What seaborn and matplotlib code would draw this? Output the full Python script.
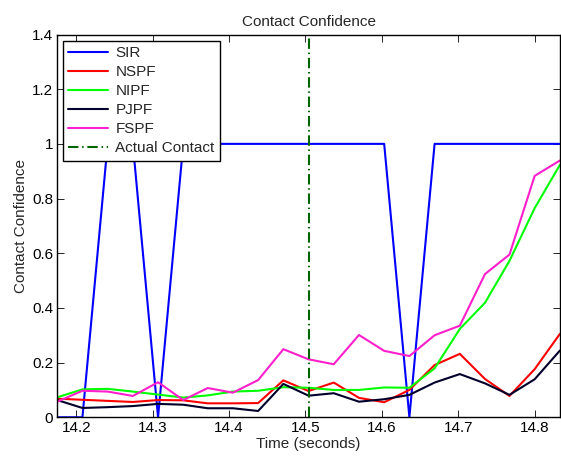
import pandas as pd
import matplotlib
matplotlib.use('Agg')
import matplotlib.pyplot as plt
import seaborn as sns

# Values
time_s = [14.175, 14.208, 14.241, 14.274, 14.307, 14.340, 14.372, 14.405,
          14.438, 14.471, 14.504, 14.537, 14.570, 14.603, 14.636, 14.669,
          14.702, 14.735, 14.767, 14.800, 14.833]

sir = [0, 0, 1, 1, 0, 1, 1, 1, 1, 1, 1, 1, 1, 1, 0, 1, 1, 1, 1, 1, 1]
nspf = [0.068, 0.064, 0.060, 0.056, 0.063, 0.062, 0.051, 0.051, 0.052, 0.135,
        0.096, 0.127, 0.071, 0.055, 0.100, 0.191, 0.232, 0.140, 0.078, 0.176, 0.305]
nipf = [0.073, 0.102, 0.104, 0.094, 0.083, 0.072, 0.080, 0.094, 0.097, 0.110,
        0.108, 0.100, 0.100, 0.109, 0.108, 0.179, 0.323, 0.419, 0.572, 0.765, 0.923]
pjpf = [0.063, 0.034, 0.037, 0.041, 0.049, 0.046, 0.033, 0.033, 0.023, 0.122,
        0.079, 0.088, 0.057, 0.066, 0.082, 0.127, 0.158, 0.124, 0.082, 0.139, 0.244]
fspf = [0.057, 0.097, 0.094, 0.078, 0.128, 0.063, 0.107, 0.090, 0.136, 0.249,
        0.212, 0.194, 0.301, 0.243, 0.224, 0.300, 0.335, 0.524, 0.595, 0.883, 0.939]

contact_time = 14.504

series_names = ['SIR', 'NSPF', 'NIPF', 'PJPF', 'FSPF']
series_colors = ['#0000ff', '#ff0000', '#00ff00', '#00002b', '#ff1fcc']

x_ticks = [14.2, 14.3, 14.4, 14.5, 14.6, 14.7, 14.8]
y_ticks = [0, 0.2, 0.4, 0.6, 0.8, 1.0, 1.2, 1.4]
y_tick_labels = ['0', '0.2', '0.4', '0.6', '0.8', '1', '1.2', '1.4']

sns.set_style('ticks')
plt.rcParams['font.family'] = ['Liberation Sans', 'DejaVu Sans']
plt.rcParams.update({
    'xtick.direction': 'in', 'ytick.direction': 'in',
    'xtick.top': True, 'ytick.right': True,
    'xtick.major.size': 5, 'ytick.major.size': 5,
    'xtick.major.width': 0.6, 'ytick.major.width': 0.6,
    'axes.linewidth': 1.0, 'axes.edgecolor': 'black',
    'xtick.color': 'black', 'ytick.color': 'black',
})

df = pd.DataFrame({'time': time_s, 'SIR': sir, 'NSPF': nspf, 'NIPF': nipf,
                   'PJPF': pjpf, 'FSPF': fspf})
long_df = df.melt(id_vars='time', var_name='filter', value_name='confidence')

fig = plt.figure(figsize=(5.61, 4.62), dpi=100)
ax = fig.add_axes([0.102, 0.0968, 0.896, 0.8285])

sns.lineplot(data=long_df, x='time', y='confidence', hue='filter',
             hue_order=series_names, palette=series_colors, sort=False,
             linewidth=1.5, ax=ax, legend=False)

ax.axvline(contact_time, color='#006400', linewidth=1.5,
           linestyle=(0, (5, 1.8, 0.7, 1.8)))

ax.set_xlim(time_s[0], time_s[-1])
ax.set_ylim(0, 1.4)
ax.set_xticks(x_ticks)
ax.set_xticklabels([f'{t:.1f}' for t in x_ticks])
ax.set_yticks(y_ticks)
ax.set_yticklabels(y_tick_labels)
ax.tick_params(labelsize=11, pad=3)

ax.set_title('Contact Confidence', fontsize=11, pad=6)
ax.set_xlabel('Time (seconds)', fontsize=11, labelpad=1)
ax.set_ylabel('Contact Confidence', fontsize=11, labelpad=3)

handles = ax.get_lines()
labels = series_names + ['Actual Contact']
leg = ax.legend(handles, labels, loc='upper left', bbox_to_anchor=(0.0107, 0.984),
                borderaxespad=0, fontsize=11, handlelength=2.6, handletextpad=0.5,
                labelspacing=0.33, borderpad=0.35, frameon=True, fancybox=False,
                framealpha=1)
leg.get_frame().set_edgecolor('black')
leg.get_frame().set_linewidth(1.0)

fig.savefig('out.png', dpi=100)
